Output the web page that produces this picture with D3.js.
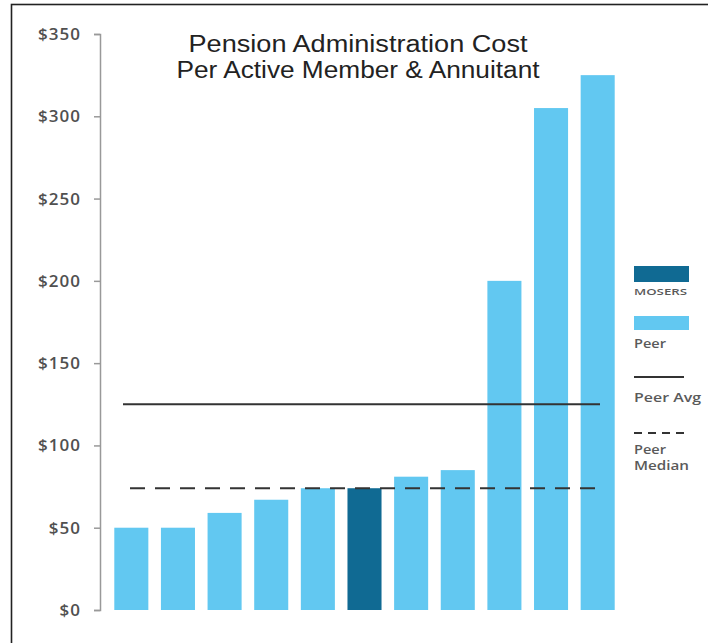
<!DOCTYPE html>
<html>
<head>
<meta charset="utf-8">
<script src="https://cdn.jsdelivr.net/npm/d3@7"></script>
<style>
  body { margin: 0; background: #fff; }
  svg { display: block; font-family: "Liberation Sans", Arial, sans-serif; }
</style>
</head>
<body>
<svg width="708" height="643"></svg>
<script>
// Data
const systems = ["P1", "P2", "P3", "P4", "P5", "MOSERS", "P7", "P8", "P9", "P10", "P11"];
const costs = [50, 50, 59, 67, 74, 74, 81, 85, 200, 305, 325];
const groups = ["Peer", "Peer", "Peer", "Peer", "Peer", "MOSERS", "Peer", "Peer", "Peer", "Peer", "Peer"];
const yTicks = [0, 50, 100, 150, 200, 250, 300, 350];
const peerAvg = 125;
const peerMedian = 74;

const data = systems.map((s, i) => ({ name: s, value: costs[i], group: groups[i] }));

const svg = d3.select("svg");

// outer frame (only left and top edges fall inside the picture)
svg.append("rect")
   .attr("x", 11.5).attr("y", 4.5)
   .attr("width", 720).attr("height", 660)
   .attr("fill", "none")
   .attr("stroke", "#222")
   .attr("stroke-width", 1.6);

const x = d3.scaleBand()
            .domain(systems)
            .range([108, 621])
            .paddingInner(0.27)
            .paddingOuter(0.135);

const y = d3.scaleLinear()
            .domain([0, 350])
            .range([610, 34]);

const color = d3.scaleOrdinal()
                .domain(["MOSERS", "Peer"])
                .range(["#106a93", "#62c8f1"]);

// y axis
const yAxis = svg.append("g")
   .attr("transform", "translate(100,0)")
   .call(d3.axisLeft(y).tickValues(yTicks).tickSize(6).tickPadding(13).tickFormat(d => "$" + d));
yAxis.select(".domain").attr("stroke", "#999").attr("stroke-width", 1.5);
yAxis.selectAll(".tick line").attr("stroke", "#999").attr("stroke-width", 1.5);
yAxis.selectAll("text")
     .attr("fill", "#505050")
     .attr("font-size", "17px")
     .attr("font-weight", 600)
     .attr("letter-spacing", "1px")
     .attr("font-family", "'Open Sans', sans-serif");

// bars
svg.selectAll(".bar")
   .data(data)
   .enter()
   .append("rect")
   .attr("class", "bar")
   .attr("x", d => x(d.name))
   .attr("y", d => y(d.value))
   .attr("width", x.bandwidth())
   .attr("height", d => y(0) - y(d.value))
   .attr("fill", d => color(d.group));

// peer average and median lines
svg.append("line")
   .attr("x1", 123).attr("x2", 600)
   .attr("y1", y(peerAvg)).attr("y2", y(peerAvg))
   .attr("stroke", "#333").attr("stroke-width", 2);

svg.append("line")
   .attr("x1", 130).attr("x2", 600)
   .attr("y1", y(peerMedian)).attr("y2", y(peerMedian))
   .attr("stroke", "#333").attr("stroke-width", 2)
   .attr("stroke-dasharray", "15,10");

// title
const title = svg.append("text")
   .attr("text-anchor", "middle")
   .attr("font-size", "23px")
   .attr("fill", "#222");
title.append("tspan").attr("x", 358).attr("y", 52)
     .attr("textLength", 339).attr("lengthAdjust", "spacingAndGlyphs")
     .text("Pension Administration Cost");
title.append("tspan").attr("x", 358).attr("y", 78)
     .attr("textLength", 363).attr("lengthAdjust", "spacingAndGlyphs")
     .text("Per Active Member & Annuitant");

// legend
const legend = svg.append("g").attr("transform", "translate(634,0)");
const legendText = (yPos, size, len, txt) =>
  legend.append("text")
        .attr("x", 0).attr("y", yPos)
        .attr("font-size", size)
        .attr("font-weight", 600)
        .attr("font-family", "'Open Sans', sans-serif")
        .attr("fill", "#5a5a5a")
        .attr("textLength", len)
        .attr("lengthAdjust", "spacingAndGlyphs")
        .text(txt);

legend.append("rect").attr("x", 0).attr("y", 266).attr("width", 55).attr("height", 16).attr("fill", color("MOSERS"));
legendText(295, "9px", 53, "MOSERS");
legend.append("rect").attr("x", 0).attr("y", 316).attr("width", 55).attr("height", 14).attr("fill", color("Peer"));
legendText(348, "12px", 32, "Peer");
legend.append("line").attr("x1", 0).attr("x2", 50).attr("y1", 377).attr("y2", 377).attr("stroke", "#333").attr("stroke-width", 2);
legendText(402, "12px", 67, "Peer Avg");
legend.append("line").attr("x1", 0).attr("x2", 50).attr("y1", 433).attr("y2", 433).attr("stroke", "#333").attr("stroke-width", 2).attr("stroke-dasharray", "8,6");
legendText(454, "12px", 32, "Peer");
legendText(470, "12px", 55, "Median");
</script>
</body>
</html>
